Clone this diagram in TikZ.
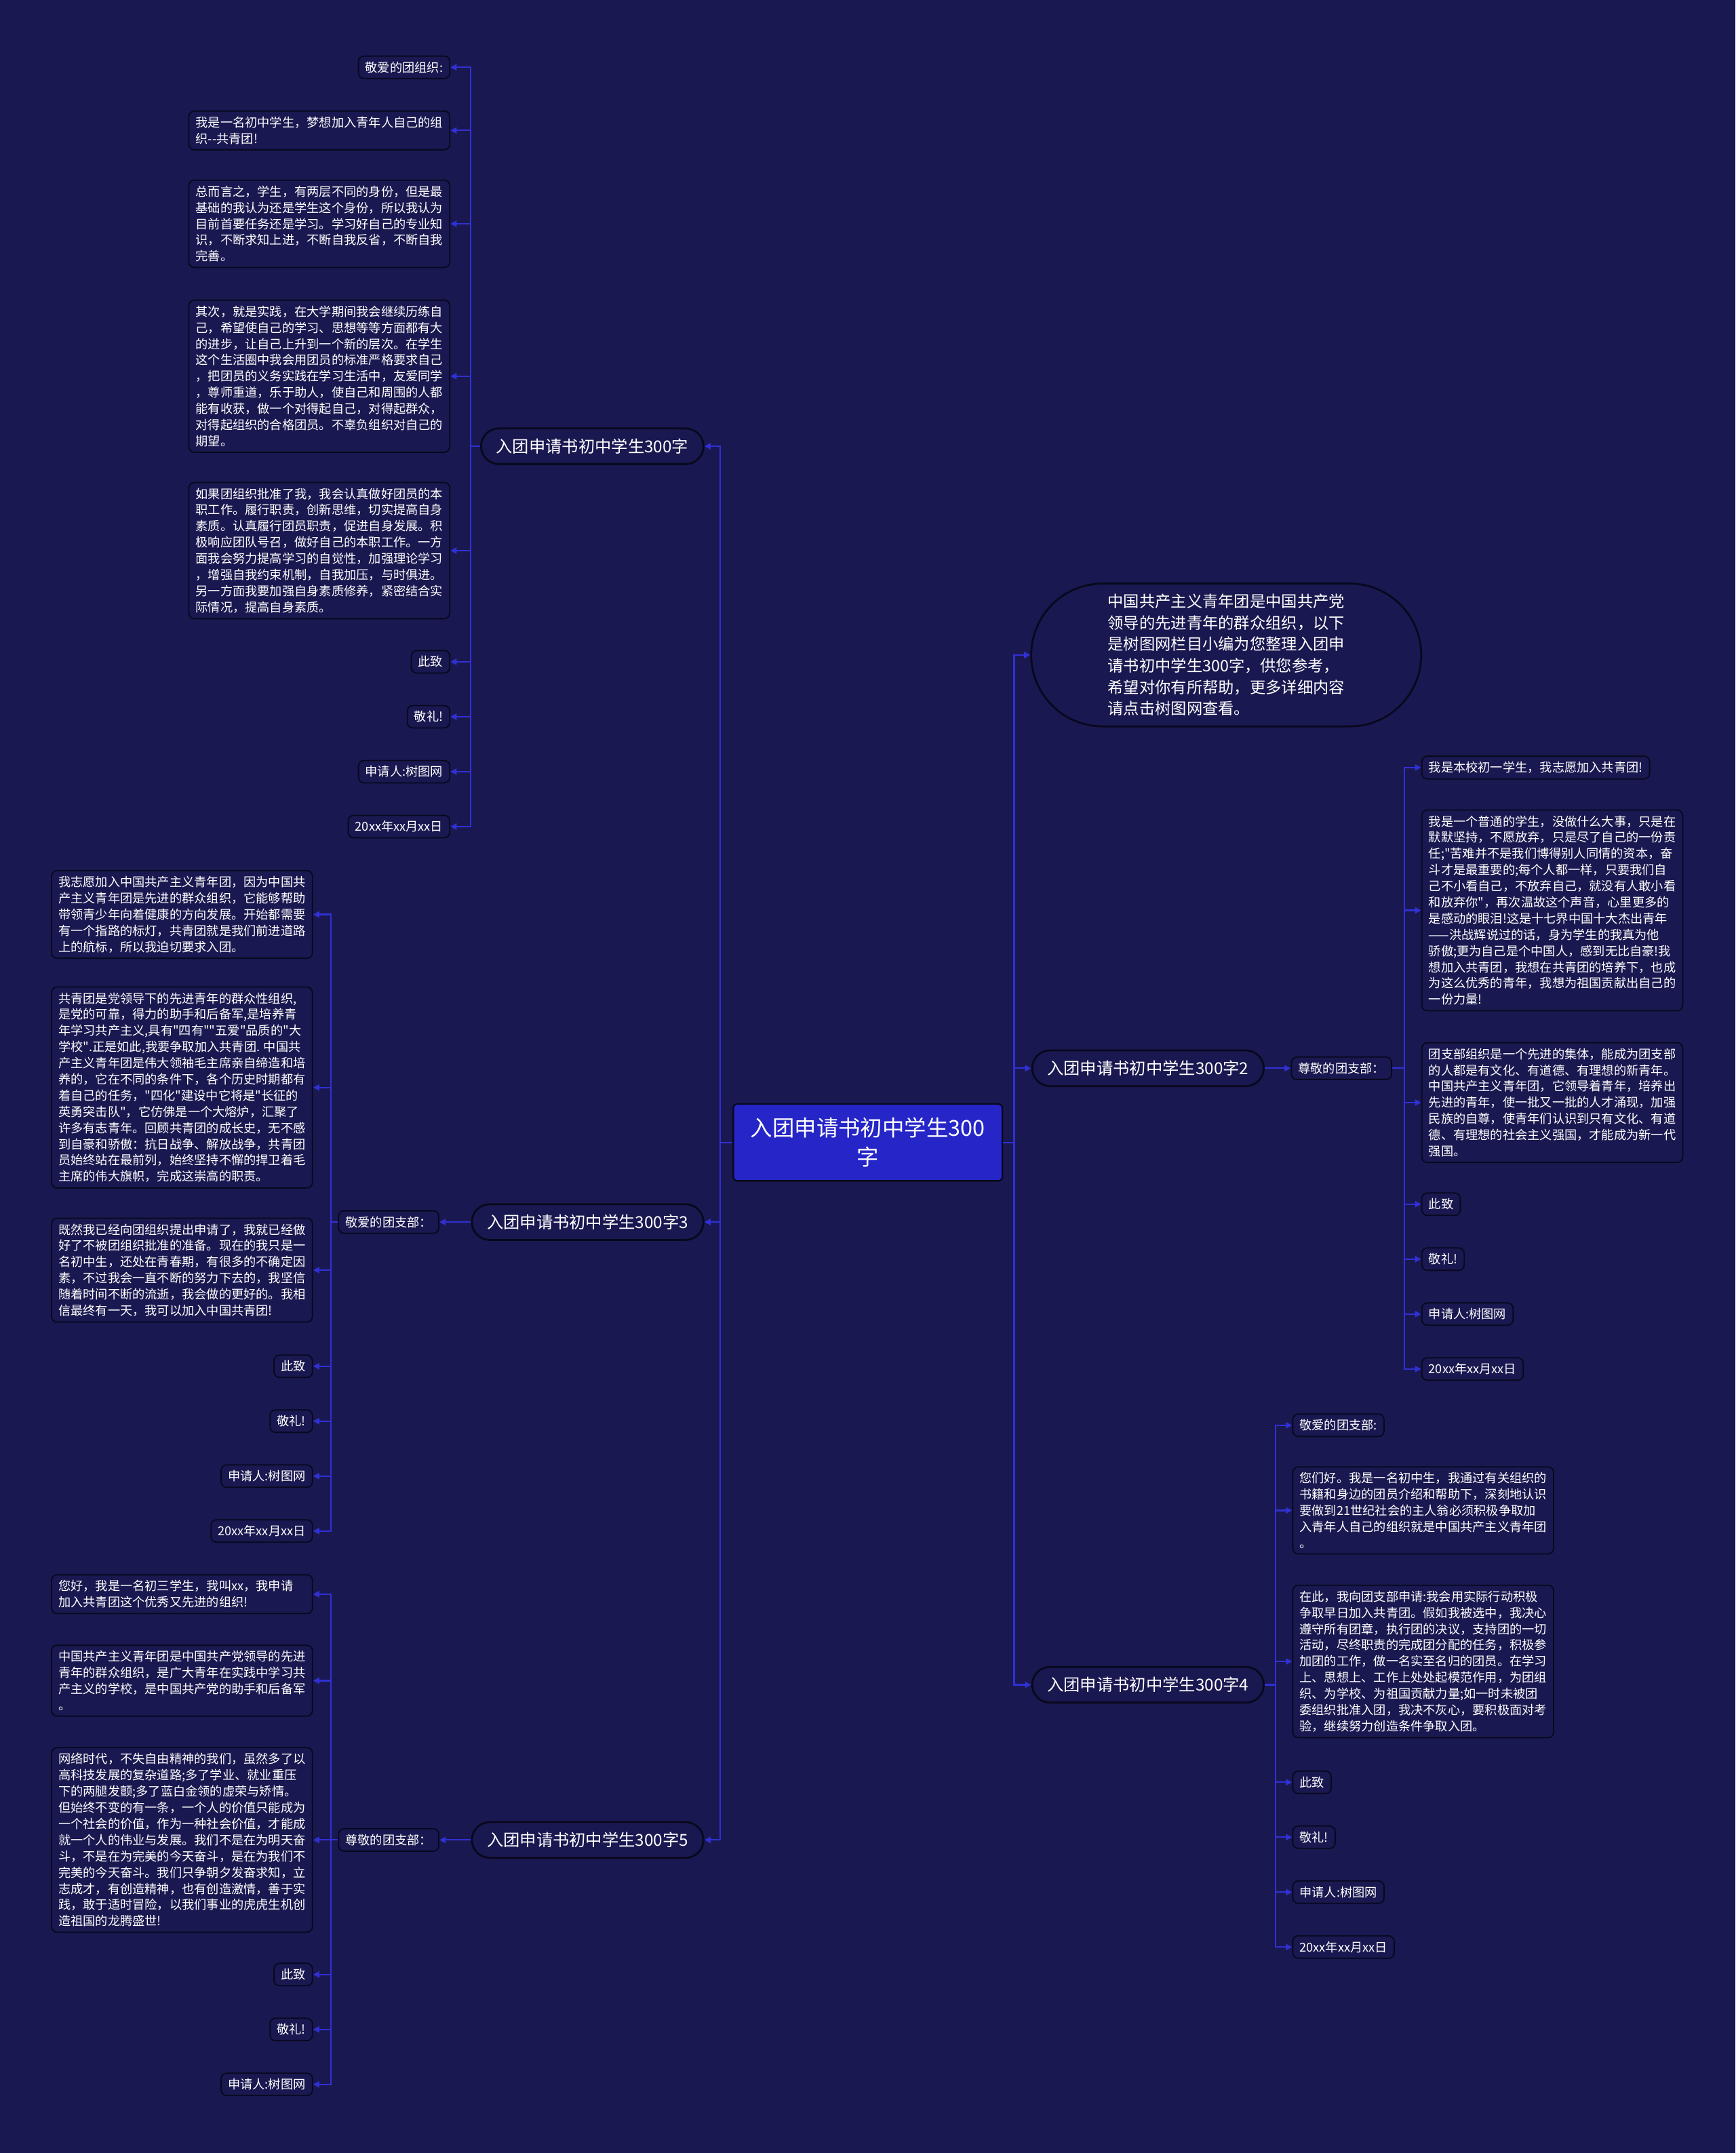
\documentclass[tikz,border=0pt]{standalone}
\usepackage{fontspec}
\setmainfont{Noto Sans CJK SC}
\usetikzlibrary{arrows.meta}
\definecolor{bg}{RGB}{26,24,80}
\definecolor{linec}{RGB}{48,48,212}
\definecolor{bord}{RGB}{8,8,30}
\definecolor{cfill}{RGB}{38,38,200}
\newcommand{\dq}{\XeTeXglyph\XeTeXcharglyph"22\relax}
\begin{document}
\begin{tikzpicture}[x=1pt,y=-1pt,
  conn/.style={draw=linec,line width=1.1pt,-{Triangle[length=4.5pt,width=4.5pt]}},
  leaf/.style={draw=bord,fill=bg,line width=0.9pt,rounded corners=4pt,text=white,
    font=\fontsize{9}{11.8}\selectfont,align=left,inner xsep=5pt,inner ysep=4pt},
  branch/.style={draw=bord,fill=bg,line width=1.4pt,rounded corners=13pt,text=white,
    font=\fontsize{12}{14}\selectfont,minimum height=26pt,inner xsep=11pt},
  root/.style={draw=bord,fill=cfill,line width=1.2pt,rounded corners=3pt,text=white,
    font=\fontsize{16}{21}\selectfont,align=center,minimum width=196pt,minimum height=56pt},
  intro/.style={draw=bord,fill=bg,line width=1.4pt,rounded corners=52pt,text=white,
    font=\fontsize{11.5}{15.6}\selectfont,align=left,minimum width=284pt,minimum height=104pt}]
\useasboundingbox (0,0) rectangle (1264,1568);
\fill[bg] (0,0) rectangle (1264,1568);
% root
\node[root] (C) at (632,832) {入团申请书初中学生300\\字};
% branches
\node[branch,anchor=east] (B1) at (513,325) {入团申请书初中学生300字};
\node[branch,anchor=east] (B3) at (513,890) {入团申请书初中学生300字3};
\node[branch,anchor=east] (B5) at (513,1340) {入团申请书初中学生300字5};
\node[intro] (I0) at (893,477) {中国共产主义青年团是中国共产党\\领导的先进青年的群众组织，以下\\是树图网栏目小编为您整理入团申\\请书初中学生300字，供您参考，\\希望对你有所帮助，更多详细内容\\请点击树图网查看。};
\node[branch,anchor=west] (B2) at (751,778) {入团申请书初中学生300字2};
\node[branch,anchor=west] (B4) at (751,1227) {入团申请书初中学生300字4};
\foreach \n in {B1,B3,B5} \draw[conn] (C.west) -- ++(-9,0) |- (\n.east);
\foreach \n in {I0,B2,B4} \draw[conn] (C.east) -- ++(8,0) |- (\n.west);
% B1 children
\node[leaf,anchor=east] (a1) at (328,49) {敬爱的团组织:};
\node[leaf,anchor=east] (a2) at (328,95) {我是一名初中学生，梦想加入青年人自己的组\\织-{}-共青团!};
\node[leaf,anchor=east] (a3) at (328,163) {总而言之，学生，有两层不同的身份，但是最\\基础的我认为还是学生这个身份，所以我认为\\目前首要任务还是学习。学习好自己的专业知\\识，不断求知上进，不断自我反省，不断自我\\完善。};
\node[leaf,anchor=east] (a4) at (328,274) {其次，就是实践，在大学期间我会继续历练自\\己，希望使自己的学习、思想等等方面都有大\\的进步，让自己上升到一个新的层次。在学生\\这个生活圈中我会用团员的标准严格要求自己\\，把团员的义务实践在学习生活中，友爱同学\\，尊师重道，乐于助人，使自己和周围的人都\\能有收获，做一个对得起自己，对得起群众，\\对得起组织的合格团员。不辜负组织对自己的\\期望。};
\node[leaf,anchor=east] (a5) at (328,401) {如果团组织批准了我，我会认真做好团员的本\\职工作。履行职责，创新思维，切实提高自身\\素质。认真履行团员职责，促进自身发展。积\\极响应团队号召，做好自己的本职工作。一方\\面我会努力提高学习的自觉性，加强理论学习\\，增强自我约束机制，自我加压，与时俱进。\\另一方面我要加强自身素质修养，紧密结合实\\际情况，提高自身素质。};
\node[leaf,anchor=east] (a6) at (328,482) {此致};
\node[leaf,anchor=east] (a7) at (328,522) {敬礼!};
\node[leaf,anchor=east] (a8) at (328,562) {申请人:树图网};
\node[leaf,anchor=east] (a9) at (328,602) {20xx年xx月xx日};
\foreach \n in {a1,a2,a3,a4,a5,a6,a7,a8,a9} \draw[conn] (B1.west) -- ++(-7,0) |- (\n.east);
% B3
\node[leaf,anchor=east] (I3) at (320,890) {敬爱的团支部：};
\draw[conn] (B3.west) -- (I3.east);
\node[leaf,anchor=east] (c1) at (228,666) {我志愿加入中国共产主义青年团，因为中国共\\产主义青年团是先进的群众组织，它能够帮助\\带领青少年向着健康的方向发展。开始都需要\\有一个指路的标灯，共青团就是我们前进道路\\上的航标，所以我迫切要求入团。};
\node[leaf,anchor=east,minimum width=190pt] (c2) at (228,792) {共青团是党领导下的先进青年的群众性组织,\\是党的可靠，得力的助手和后备军,是培养青\\年学习共产主义,具有\dq 四有\dq\dq 五爱\dq 品质的\dq 大\\学校\dq.正是如此,我要争取加入共青团. 中国共\\产主义青年团是伟大领袖毛主席亲自缔造和培\\养的，它在不同的条件下，各个历史时期都有\\着自己的任务，\dq 四化\dq 建设中它将是\dq 长征的\\英勇突击队\dq，它仿佛是一个大熔炉，汇聚了\\许多有志青年。回顾共青团的成长史，无不感\\到自豪和骄傲：抗日战争、解放战争，共青团\\员始终站在最前列，始终坚持不懈的捍卫着毛\\主席的伟大旗帜，完成这崇高的职责。};
\node[leaf,anchor=east] (c3) at (228,925) {既然我已经向团组织提出申请了，我就已经做\\好了不被团组织批准的准备。现在的我只是一\\名初中生，还处在青春期，有很多的不确定因\\素，不过我会一直不断的努力下去的，我坚信\\随着时间不断的流逝，我会做的更好的。我相\\信最终有一天，我可以加入中国共青团!};
\node[leaf,anchor=east] (c4) at (228,995) {此致};
\node[leaf,anchor=east] (c5) at (228,1035) {敬礼!};
\node[leaf,anchor=east] (c6) at (228,1075) {申请人:树图网};
\node[leaf,anchor=east] (c7) at (228,1115) {20xx年xx月xx日};
\foreach \n in {c1,c2,c3,c4,c5,c6,c7} \draw[conn] (I3.west) -- ++(-5,0) |- (\n.east);
% B5
\node[leaf,anchor=east] (I5) at (320,1340) {尊敬的团支部：};
\draw[conn] (B5.west) -- (I5.east);
\node[leaf,anchor=east,text width=180pt] (e1) at (228,1161) {您好，我是一名初三学生，我叫xx，我申请\\加入共青团这个优秀又先进的组织!};
\node[leaf,anchor=east] (e2) at (228,1224) {中国共产主义青年团是中国共产党领导的先进\\青年的群众组织，是广大青年在实践中学习共\\产主义的学校，是中国共产党的助手和后备军\\。};
\node[leaf,anchor=east] (e3) at (228,1340) {网络时代，不失自由精神的我们，虽然多了以\\高科技发展的复杂道路;多了学业、就业重压\\下的两腿发颤;多了蓝白金领的虚荣与矫情。\\但始终不变的有一条，一个人的价值只能成为\\一个社会的价值，作为一种社会价值，才能成\\就一个人的伟业与发展。我们不是在为明天奋\\斗，不是在为完美的今天奋斗，是在为我们不\\完美的今天奋斗。我们只争朝夕发奋求知，立\\志成才，有创造精神，也有创造激情，善于实\\践，敢于适时冒险，以我们事业的虎虎生机创\\造祖国的龙腾盛世!};
\node[leaf,anchor=east] (e4) at (228,1438) {此致};
\node[leaf,anchor=east] (e5) at (228,1478) {敬礼!};
\node[leaf,anchor=east] (e6) at (228,1518) {申请人:树图网};
\foreach \n in {e1,e2,e3,e4,e5,e6} \draw[conn] (I5.west) -- ++(-5,0) |- (\n.east);
% B2
\node[leaf,anchor=west] (I2) at (940,778) {尊敬的团支部：};
\draw[conn] (B2.east) -- (I2.west);
\node[leaf,anchor=west] (b1) at (1035,559) {我是本校初一学生，我志愿加入共青团!};
\node[leaf,anchor=west] (b2) at (1035,663) {我是一个普通的学生，没做什么大事，只是在\\默默坚持，不愿放弃，只是尽了自己的一份责\\任;\dq 苦难并不是我们博得别人同情的资本，奋\\斗才是最重要的;每个人都一样，只要我们自\\己不小看自己，不放弃自己，就没有人敢小看\\和放弃你\dq，再次温故这个声音，心里更多的\\是感动的眼泪!这是十七界中国十大杰出青年\\——洪战辉说过的话，身为学生的我真为他\\骄傲;更为自己是个中国人，感到无比自豪!我\\想加入共青团，我想在共青团的培养下，也成\\为这么优秀的青年，我想为祖国贡献出自己的\\一份力量!};
\node[leaf,anchor=west] (b3) at (1035,803) {团支部组织是一个先进的集体，能成为团支部\\的人都是有文化、有道德、有理想的新青年。\\中国共产主义青年团，它领导着青年，培养出\\先进的青年，使一批又一批的人才涌现，加强\\民族的自尊，使青年们认识到只有文化、有道\\德、有理想的社会主义强国，才能成为新一代\\强国。};
\node[leaf,anchor=west] (b4) at (1035,877) {此致};
\node[leaf,anchor=west] (b5) at (1035,917) {敬礼!};
\node[leaf,anchor=west] (b6) at (1035,957) {申请人:树图网};
\node[leaf,anchor=west] (b7) at (1035,997) {20xx年xx月xx日};
\foreach \n in {b1,b2,b3,b4,b5,b6,b7} \draw[conn] (I2.east) -- ++(9,0) |- (\n.west);
% B4
\node[leaf,anchor=west] (d1) at (941,1038) {敬爱的团支部:};
\node[leaf,anchor=west] (d2) at (941,1100) {您们好。我是一名初中生，我通过有关组织的\\书籍和身边的团员介绍和帮助下，深刻地认识\\要做到21世纪社会的主人翁必须积极争取加\\入青年人自己的组织就是中国共产主义青年团\\。};
\node[leaf,anchor=west] (d3) at (941,1210) {在此，我向团支部申请:我会用实际行动积极\\争取早日加入共青团。假如我被选中，我决心\\遵守所有团章，执行团的决议，支持团的一切\\活动，尽终职责的完成团分配的任务，积极参\\加团的工作，做一名实至名归的团员。在学习\\上、思想上、工作上处处起模范作用，为团组\\织、为学校、为祖国贡献力量;如一时未被团\\委组织批准入团，我决不灰心，要积极面对考\\验，继续努力创造条件争取入团。};
\node[leaf,anchor=west] (d4) at (941,1298) {此致};
\node[leaf,anchor=west] (d5) at (941,1338) {敬礼!};
\node[leaf,anchor=west] (d6) at (941,1378) {申请人:树图网};
\node[leaf,anchor=west] (d7) at (941,1418) {20xx年xx月xx日};
\foreach \n in {d1,d2,d3,d4,d5,d6,d7} \draw[conn] (B4.east) -- ++(8,0) |- (\n.west);
\end{tikzpicture}
\end{document}
